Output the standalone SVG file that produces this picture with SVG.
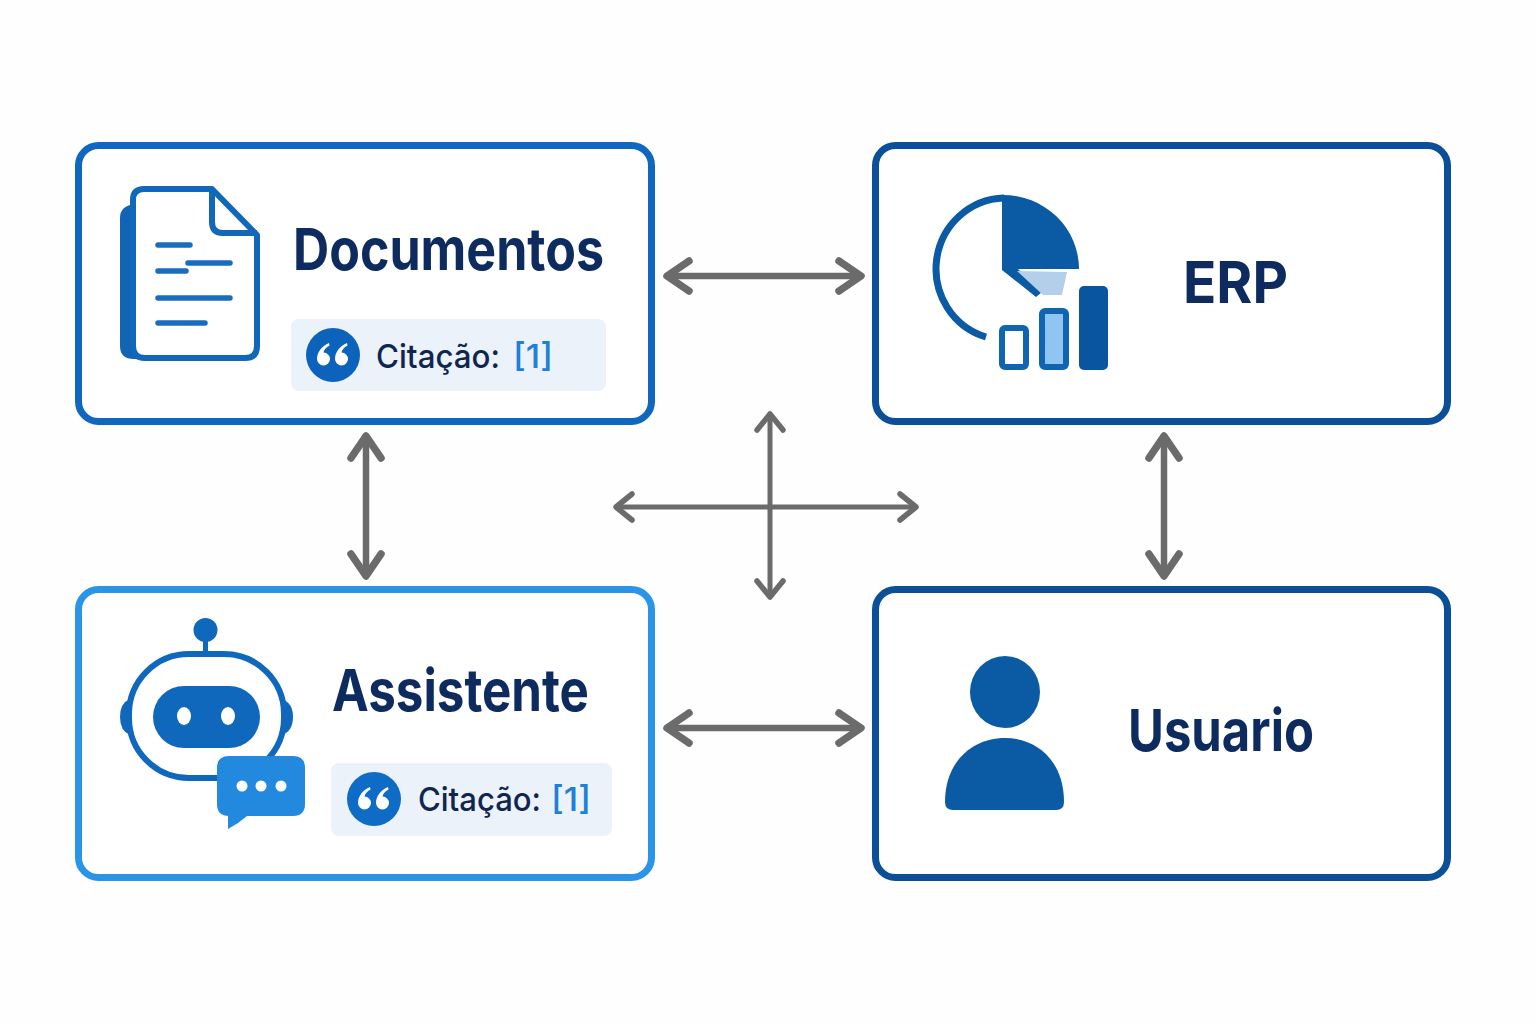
<svg xmlns="http://www.w3.org/2000/svg" width="1536" height="1024" viewBox="0 0 1536 1024">
<style>
.box{fill:#fff;stroke-width:7}
.title{font-family:"Inter","Liberation Sans",sans-serif;font-weight:700;font-size:58px;fill:#0D2B5E}
.cite{font-family:"Inter","Liberation Sans",sans-serif;font-weight:500;font-size:33px;fill:#10264F}
.ref{fill:#1E80D6}
.chip{fill:#EBF2FA}
.arrow{fill:none;stroke:#6B6B6B;stroke-width:6.5;marker-start:url(#head);marker-end:url(#head)}
.thin{stroke-width:5;marker-start:url(#headThin);marker-end:url(#headThin)}
.q{fill:#fff}
</style>
<defs>
<marker id="head" viewBox="-30 -22 36 44" refX="0" refY="0" markerUnits="userSpaceOnUse" markerWidth="36" markerHeight="44" orient="auto-start-reverse"><path d="M-22 -15 L0 0 L-22 15" fill="none" stroke="#6B6B6B" stroke-width="7.5" stroke-linecap="round" stroke-linejoin="round"/></marker>
<marker id="headThin" viewBox="-24 -18 30 36" refX="0" refY="0" markerUnits="userSpaceOnUse" markerWidth="30" markerHeight="36" orient="auto-start-reverse"><path d="M-16 -13 L0 0 L-16 13" fill="none" stroke="#6B6B6B" stroke-width="5.5" stroke-linecap="round" stroke-linejoin="round"/></marker>
<g id="quote"><path class="q" d="M-3 -11 C-10 -8 -15 -2 -15 5 A6.500 6.500 0 1 0 -8.500 -1.500 C-8 -4 -6 -7 -2.500 -8.500Z"/><path class="q" d="M15 -11 C8 -8 3 -2 3 5 A6.500 6.500 0 1 0 9.500 -1.500 C10 -4 12 -7 15.500 -8.500Z"/></g>
</defs>
<rect width="1536" height="1024" fill="#FEFEFE"/>
<g id="connectors">
<path class="arrow" d="M667 276H861"/>
<path class="arrow" d="M667 728H861"/>
<path class="arrow" d="M366 436V576"/>
<path class="arrow" d="M1164 436V576"/>
<path class="arrow thin" d="M770 414V597"/>
<path class="arrow thin" d="M616 507H916"/>
</g>
<g id="documentos">
<rect class="box" x="78.500" y="145.500" width="573" height="276" rx="20" stroke="#0F67BF"/>
<path d="M134 204 Q120 206 120 218 V346 Q120 359 134 359 H146 L133 345Z" fill="#1265B4"/>
<path d="M144 189 H212 L257 235 V346 Q257 358 245 358 H145 Q133 358 133 346 V200 Q133 189 144 189Z" fill="#fff" stroke="#1268B8" stroke-width="6" stroke-linejoin="round"/>
<path d="M212 189 V222 Q212 233 223 233 H257" fill="none" stroke="#1268B8" stroke-width="6"/>
<g fill="none" stroke="#1A6DBE" stroke-width="5.500" stroke-linecap="round"><path d="M158 245H190M188 263H230M158 271H186M158 298H230M158 323H205"/></g>
<rect class="chip" x="291" y="319" width="315" height="72" rx="8"/>
<circle cx="333" cy="355" r="27" fill="#0B63BC"/>
<use href="#quote" x="332" y="354"/>
<text class="title" x="293" y="270" textLength="311" lengthAdjust="spacingAndGlyphs">Documentos</text>
<text class="cite" x="376" y="368" textLength="124" lengthAdjust="spacingAndGlyphs">Citação:</text>
<text class="cite ref" x="513" y="368" textLength="40" lengthAdjust="spacingAndGlyphs">[1]</text>
</g>
<g id="erp">
<rect class="box" x="875.500" y="145.500" width="572" height="276" rx="20" stroke="#0A4F98"/>
<path d="M1004 198 A70 71 0 0 0 986 337" fill="none" stroke="#0A5AA4" stroke-width="7"/>
<path d="M1002 195 A76 74 0 0 1 1079 269 H1018 L1042 292 L1036 297 L1002 270Z" fill="#0A5AA4"/>
<path d="M1017 271 L1067 272 L1062 295 L1043 295Z" fill="#B4CFEA"/>
<rect x="1002" y="328" width="24" height="39" rx="3" fill="#fff" stroke="#0F65B2" stroke-width="6"/>
<rect x="1042" y="311" width="24" height="56" rx="3" fill="#90C4F2" stroke="#0F65B2" stroke-width="6"/>
<rect x="1079" y="286" width="29" height="84" rx="5" fill="#0A559F"/>
<text class="title" x="1183" y="303" textLength="105" lengthAdjust="spacingAndGlyphs">ERP</text>
</g>
<g id="assistente">
<rect class="box" x="78.500" y="589.500" width="573" height="288" rx="20" stroke="#2A95E6"/>
<circle cx="205.500" cy="630" r="12" fill="#1068BC"/>
<rect x="203" y="638" width="5" height="16" fill="#1068BC"/>
<path d="M130 699 Q120 703 120 717 Q120 731 130 735Z" fill="#1068BC"/>
<path d="M282 699 Q293 703 293 717 Q293 731 282 735Z" fill="#1068BC"/>
<rect x="129" y="654" width="155" height="124" rx="60" fill="#fff" stroke="#1068BC" stroke-width="6"/>
<rect x="153" y="686" width="107" height="62" rx="31" fill="#1068BC"/>
<ellipse cx="184" cy="716" rx="7" ry="9" fill="#fff"/>
<ellipse cx="228" cy="716" rx="7" ry="9" fill="#fff"/>
<path d="M229 756 H293 Q305 756 305 768 V804 Q305 816 293 816 H247 Q238 824 228 829 V816 H229 Q217 816 217 804 V768 Q217 756 229 756Z" fill="#2289DF"/>
<circle cx="242" cy="786" r="5.500" fill="#fff"/><circle cx="261" cy="786" r="5.500" fill="#fff"/><circle cx="281" cy="786" r="5.500" fill="#fff"/>
<rect class="chip" x="331" y="763" width="281" height="73" rx="8"/>
<circle cx="374" cy="799" r="27" fill="#0F6CC6"/>
<use href="#quote" x="373" y="798"/>
<text class="title" x="332" y="711" textLength="257" lengthAdjust="spacingAndGlyphs">Assistente</text>
<text class="cite" x="418" y="811" textLength="123" lengthAdjust="spacingAndGlyphs">Citação:</text>
<text class="cite ref" x="551" y="811" textLength="40" lengthAdjust="spacingAndGlyphs">[1]</text>
</g>
<g id="usuario">
<rect class="box" x="875.500" y="589.500" width="572" height="288" rx="20" stroke="#0A4F98"/>
<ellipse cx="1005" cy="692" rx="35" ry="36" fill="#0A5AA4"/>
<path d="M945 802 C945 762 972 738 1005 738 C1038 738 1064 762 1064 802 Q1064 810 1056 810 H953 Q945 810 945 802Z" fill="#0A5AA4"/>
<text class="title" x="1128" y="751" textLength="186" lengthAdjust="spacingAndGlyphs">Usuario</text>
</g>
</svg>
